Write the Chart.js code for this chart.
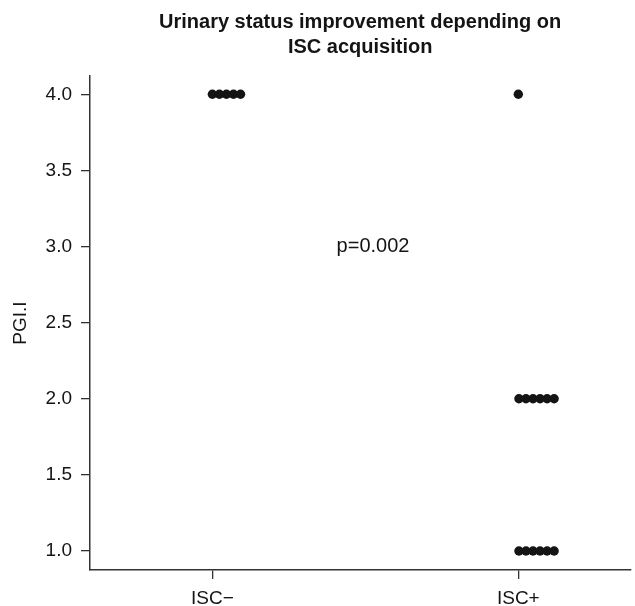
<!DOCTYPE html>
<html>
<head>
<meta charset="utf-8">
<script src="https://cdn.jsdelivr.net/npm/chart.js@4/dist/chart.umd.min.js"></script>
<style>
  html, body { margin: 0; padding: 0; background: #ffffff; }
  #wrap { width: 635px; height: 606px; position: relative; }
</style>
</head>
<body>
<div id="wrap"><canvas id="c" width="635" height="606"></canvas></div>
<script>
// ---- data ----
const categories = ['ISC\u2212', 'ISC+'];
const categoryPositions = [0, 1];
const yTickValues = [1.0, 1.5, 2.0, 2.5, 3.0, 3.5, 4.0];

// ISC− group: PGI-I values and dot-plot x positions (stacked dots start at the category)
const iscMinusPGI = [4, 4, 4, 4, 4];
const iscMinusX   = [0.000, 0.023, 0.046, 0.069, 0.092];

// ISC+ group
const iscPlusPGI = [4, 2, 2, 2, 2, 2, 2, 1, 1, 1, 1, 1, 1];
const iscPlusX   = [1.000, 1.002, 1.025, 1.048, 1.071, 1.094, 1.117, 1.002, 1.025, 1.048, 1.071, 1.094, 1.117];

const titleLines = ['Urinary status improvement depending on', 'ISC acquisition'];
const yAxisTitle = 'PGI.I';
const pValueText = 'p=0.002';
const pValuePos = { x: 0.525, y: 3.0 };

const FONT = "'Liberation Sans', Arial, Helvetica, sans-serif";
const INK = '#141414';

const toPoints = (xs, ys) => xs.map((x, i) => ({ x: x, y: ys[i] }));

const annotatePlugin = {
  id: 'annotate',
  afterDraw(chart) {
    const ctx = chart.ctx;
    const area = chart.chartArea;
    ctx.save();
    ctx.fillStyle = INK;
    ctx.textAlign = 'center';
    ctx.textBaseline = 'middle';
    ctx.font = 'bold 20px ' + FONT;
    const cx = (area.left + area.right) / 2;
    ctx.fillText(titleLines[0], cx, 22);
    ctx.fillText(titleLines[1], cx, 47);
    ctx.font = '20px ' + FONT;
    const px = chart.scales.x.getPixelForValue(pValuePos.x);
    const py = chart.scales.y.getPixelForValue(pValuePos.y);
    ctx.fillText(pValueText, px, py);
    ctx.restore();
  }
};

new Chart(document.getElementById('c'), {
  type: 'scatter',
  data: {
    datasets: [
      {
        label: categories[0],
        data: toPoints(iscMinusX, iscMinusPGI),
        pointRadius: 4.7,
        pointBackgroundColor: INK,
        pointBorderWidth: 0,
        pointHoverRadius: 4.7
      },
      {
        label: categories[1],
        data: toPoints(iscPlusX, iscPlusPGI),
        pointRadius: 4.7,
        pointBackgroundColor: INK,
        pointBorderWidth: 0,
        pointHoverRadius: 4.7
      }
    ]
  },
  options: {
    responsive: false,
    animation: false,
    devicePixelRatio: 1,
    layout: { padding: { top: 76, left: 0, right: 0, bottom: 0 } },
    plugins: {
      legend: { display: false },
      title: { display: false },
      tooltip: { enabled: false }
    },
    scales: {
      x: {
        type: 'linear',
        min: -0.4,
        max: 1.366,
        afterBuildTicks(scale) {
          scale.ticks = categoryPositions.map(v => ({ value: v }));
        },
        afterFit(scale) {
          scale.height = 36;
        },
        ticks: {
          callback(value) {
            const i = categoryPositions.indexOf(value);
            return i >= 0 ? categories[i] : '';
          },
          font: { family: FONT, size: 19 },
          color: INK,
          padding: 8,
          maxRotation: 0,
          autoSkip: false
        },
        grid: {
          drawOnChartArea: false,
          drawTicks: true,
          tickLength: 9,
          color: '#333333',
          lineWidth: 1.3
        },
        border: { display: true, color: '#333333', width: 1.5 }
      },
      y: {
        type: 'linear',
        min: 0.875,
        max: 4.12,
        afterBuildTicks(scale) {
          scale.ticks = yTickValues.map(v => ({ value: v }));
        },
        afterFit(scale) { scale.width = 90; },
        ticks: {
          callback(value) { return Number(value).toFixed(1); },
          font: { family: FONT, size: 19 },
          color: INK,
          padding: 9,
          autoSkip: false
        },
        grid: {
          drawOnChartArea: false,
          drawTicks: true,
          tickLength: 9,
          color: '#333333',
          lineWidth: 1.3
        },
        border: { display: true, color: '#333333', width: 1.5 },
        title: {
          display: true,
          text: yAxisTitle,
          font: { family: FONT, size: 19 },
          color: INK,
          padding: { top: 9, bottom: 0 }
        }
      }
    }
  },
  plugins: [annotatePlugin]
});
</script>
</body>
</html>
